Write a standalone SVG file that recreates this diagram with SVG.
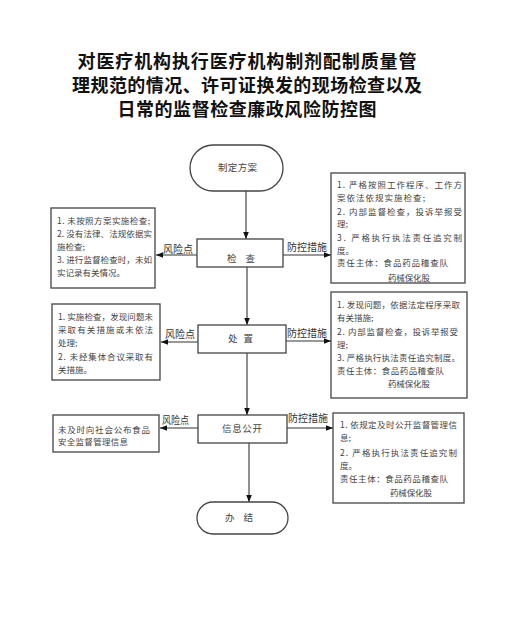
<svg xmlns="http://www.w3.org/2000/svg" width="523" height="643" viewBox="0 0 523 643">
<defs>
<style>
.title{font-family:"Noto Sans CJK SC","Liberation Sans",sans-serif;font-size:18px;font-weight:bold;fill:#111;text-anchor:middle}
.t{font-family:"Noto Sans CJK SC","Liberation Sans",sans-serif;font-size:8.5px;fill:#444}
.lbl{font-family:"Noto Sans CJK SC","Liberation Sans",sans-serif;font-size:10px;fill:#333}
.nt{font-family:"Noto Sans CJK SC","Liberation Sans",sans-serif;font-size:9.5px;fill:#444}
.box{fill:#fff;stroke:#444;stroke-width:1.3}
.line{stroke:#333;stroke-width:1.1;fill:none}
</style>
<marker id="ah" viewBox="0 0 10 10" refX="10" refY="5" markerWidth="7" markerHeight="7" markerUnits="userSpaceOnUse" orient="auto">
<path d="M0,1 L10,5 L0,9 z" fill="#111"/>
</marker>
</defs>
<rect width="523" height="643" fill="#fff"/>
<g id="title">
<text class="title" x="247" y="68" textLength="339" lengthAdjust="spacing">对医疗机构执行医疗机构制剂配制质量管</text>
<text class="title" x="247" y="92" textLength="350" lengthAdjust="spacing">理规范的情况、许可证换发的现场检查以及</text>
<text class="title" x="247" y="116" textLength="259" lengthAdjust="spacing">日常的监督检查廉政风险防控图</text>
</g>
<g id="connectors">
<line class="line" x1="246" y1="191" x2="246" y2="239" marker-end="url(#ah)"/>
<line class="line" x1="247" y1="267" x2="247" y2="325" marker-end="url(#ah)"/>
<line class="line" x1="247" y1="353" x2="247" y2="415" marker-end="url(#ah)"/>
<line class="line" x1="249" y1="443" x2="249" y2="502" marker-end="url(#ah)"/>
<line class="line" x1="197" y1="255" x2="156" y2="255" marker-end="url(#ah)"/>
<line class="line" x1="198" y1="342" x2="161" y2="342" marker-end="url(#ah)"/>
<line class="line" x1="198" y1="428" x2="160" y2="428" marker-end="url(#ah)"/>
<line class="line" x1="283" y1="255" x2="331" y2="255" marker-end="url(#ah)"/>
<line class="line" x1="286" y1="341" x2="331" y2="341" marker-end="url(#ah)"/>
<line class="line" x1="287" y1="428" x2="333" y2="428" marker-end="url(#ah)"/>
<text class="lbl" x="163" y="253" textLength="30" lengthAdjust="spacingAndGlyphs">风险点</text>
<text class="lbl" x="165" y="338" textLength="30" lengthAdjust="spacingAndGlyphs">风险点</text>
<text class="lbl" x="162" y="424" textLength="27" lengthAdjust="spacingAndGlyphs">风险点</text>
<text class="lbl" x="287" y="251" textLength="40" lengthAdjust="spacingAndGlyphs">防控措施</text>
<text class="lbl" x="287" y="337" textLength="40" lengthAdjust="spacingAndGlyphs">防控措施</text>
<text class="lbl" x="288" y="422" textLength="40" lengthAdjust="spacingAndGlyphs">防控措施</text>
</g>
<g id="start">
<rect class="box" x="190" y="145" width="93" height="46" rx="23"/>
<text class="nt" x="218" y="171" textLength="39" lengthAdjust="spacing">制定方案</text>
</g>
<g id="check">
<rect class="box" x="197" y="239" width="86" height="28"/>
<text class="nt" x="227" y="262" textLength="28" lengthAdjust="spacing">检 查</text>
</g>
<g id="handle">
<rect class="box" x="198" y="325" width="88" height="28"/>
<text class="nt" x="228" y="342" textLength="25" lengthAdjust="spacing">处 置</text>
</g>
<g id="publish">
<rect class="box" x="198" y="415" width="89" height="28"/>
<text class="nt" x="222" y="432" textLength="40" lengthAdjust="spacing">信息公开</text>
</g>
<g id="end">
<rect class="box" x="197" y="502" width="91" height="32" rx="16"/>
<text class="nt" x="225" y="521" textLength="28" lengthAdjust="spacing">办 结</text>
</g>
<g id="risk1">
<rect class="box" x="51" y="208" width="104" height="80"/>
<text class="t" x="57" y="224" textLength="93" lengthAdjust="spacing">1. 未按照方案实施检查;</text>
<text class="t" x="57" y="237" textLength="95" lengthAdjust="spacing">2. 没有法律、法规依据实</text>
<text class="t" x="57" y="250">施检查;</text>
<text class="t" x="57" y="263" textLength="95" lengthAdjust="spacing">3. 进行监督检查时，未如</text>
<text class="t" x="57" y="276">实记录有关情况。</text>
</g>
<g id="risk2">
<rect class="box" x="52" y="304" width="108" height="76"/>
<text class="t" x="58" y="320" textLength="95" lengthAdjust="spacing">1. 实施检查，发现问题未</text>
<text class="t" x="58" y="333" textLength="95" lengthAdjust="spacing">采取有关措施或未依法</text>
<text class="t" x="58" y="346">处理;</text>
<text class="t" x="58" y="360" textLength="95" lengthAdjust="spacing">2. 未经集体合议采取有</text>
<text class="t" x="58" y="373">关措施。</text>
</g>
<g id="risk3">
<rect class="box" x="53" y="415" width="106" height="37"/>
<text class="t" x="58" y="433" textLength="92" lengthAdjust="spacing">未及时向社会公布食品</text>
<text class="t" x="58" y="445" textLength="70" lengthAdjust="spacing">安全监督管理信息</text>
</g>
<g id="measure1">
<rect class="box" x="331" y="173" width="134" height="110"/>
<text class="t" x="337" y="188" textLength="125" lengthAdjust="spacing">1. 严格按照工作程序、工作方</text>
<text class="t" x="337" y="201" textLength="88" lengthAdjust="spacing">案依法依规实施检查;</text>
<text class="t" x="337" y="215" textLength="125" lengthAdjust="spacing">2. 内部监督检查，投诉举报受</text>
<text class="t" x="337" y="227">理;</text>
<text class="t" x="337" y="241" textLength="125" lengthAdjust="spacing">3. 严格执行执法责任追究制</text>
<text class="t" x="337" y="254">度。</text>
<text class="t" x="337" y="266" textLength="111" lengthAdjust="spacing">责任主体：食品药品稽查队</text>
<text class="t" x="388" y="281" textLength="42" lengthAdjust="spacing">药械保化股</text>
</g>
<g id="measure2">
<rect class="box" x="331" y="292" width="136" height="106"/>
<text class="t" x="337" y="308" textLength="123" lengthAdjust="spacing">1. 发现问题，依据法定程序采取</text>
<text class="t" x="337" y="321">有关措施;</text>
<text class="t" x="337" y="335" textLength="121" lengthAdjust="spacing">2. 内部监督检查，投诉举报受</text>
<text class="t" x="337" y="348">理;</text>
<text class="t" x="337" y="361" textLength="123" lengthAdjust="spacing">3. 严格执行执法责任追究制度。</text>
<text class="t" x="337" y="374" textLength="107" lengthAdjust="spacing">责任主体：食品药品稽查队</text>
<text class="t" x="388" y="387" textLength="42" lengthAdjust="spacing">药械保化股</text>
</g>
<g id="measure3">
<rect class="box" x="333" y="413" width="131" height="90"/>
<text class="t" x="340" y="428" textLength="117" lengthAdjust="spacing">1. 依规定及时公开监督管理信</text>
<text class="t" x="340" y="441">息;</text>
<text class="t" x="340" y="456" textLength="117" lengthAdjust="spacing">2. 严格执行执法责任追究制</text>
<text class="t" x="340" y="469">度。</text>
<text class="t" x="340" y="482" textLength="108" lengthAdjust="spacing">责任主体：食品药品稽查队</text>
<text class="t" x="390" y="496" textLength="42" lengthAdjust="spacing">药械保化股</text>
</g>
</svg>
